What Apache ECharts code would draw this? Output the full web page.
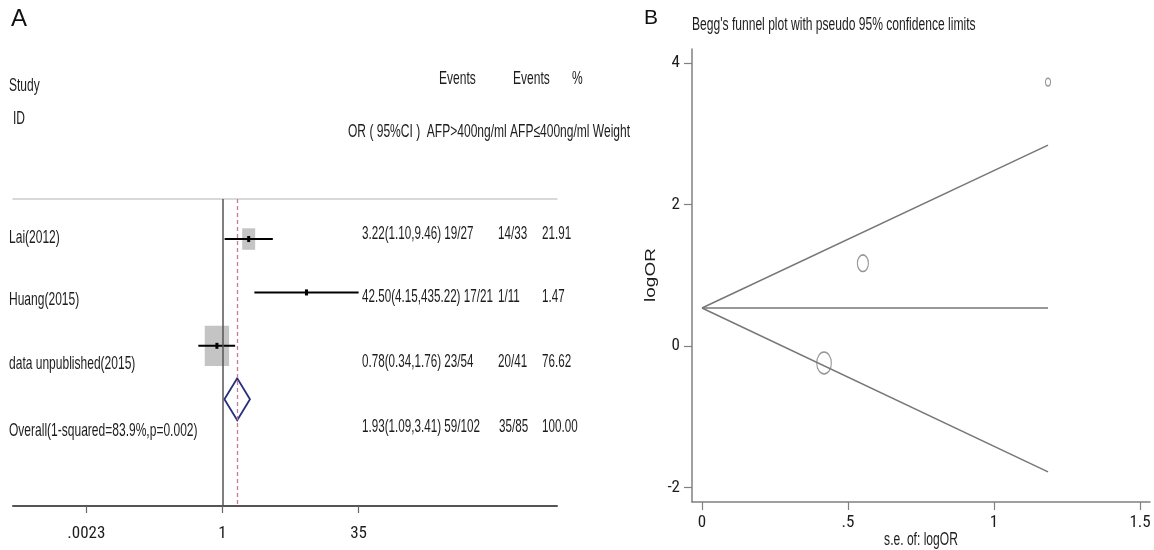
<!DOCTYPE html>
<html><head><meta charset="utf-8">
<script src="https://cdn.jsdelivr.net/npm/echarts@6/dist/echarts.min.js"></script>
<style>html,body{margin:0;padding:0;background:#fff;overflow:hidden}#c{width:1154px;height:550px}</style>
</head><body><div id="c"></div>
<script>
// ---------- Panel A: forest plot data ----------
const studies = ['Lai(2012)', 'Huang(2015)', 'data unpublished(2015)'];
const orEst = [3.22, 42.50, 0.78];
const orLow = [1.10, 4.15, 0.34];
const orHigh = [9.46, 435.22, 1.76];
const eventsHigh = ['19/27', '17/21', '23/54'];
const eventsLow = ['14/33', '1/11', '20/41'];
const weights = [21.91, 1.47, 76.62];
const overallLabel = 'Overall(1-squared=83.9%,p=0.002)';
const overallOR = [1.93, 1.09, 3.41];           // estimate, low, high
const overallEvents = ['59/102', '35/85'];
const overallWeight = [100.00];
const forestTickValues = [0.0023, 1, 435];
const forestTickLabels = ['.0023', '1', '35'];
const studyHeader = ['Study', 'ID'];
const columnHeaderTop = ['Events', 'Events', '%'];
const columnHeaderBottom = ['OR ( 95%CI )  AFP>400ng/ml AFP\u2264400ng/ml Weight'];

// ---------- Panel B: Begg's funnel plot data ----------
const funnelTitle = ["Begg's funnel plot with pseudo 95% confidence limits"];
const funnelSE = [0.551, 1.185, 0.418];
const funnelLogOR = [1.17, 3.73, -0.24];
const limitSE = [0, 1.185];
const upperLimit = [0.537, 2.84];
const centerLine = [0.537, 0.537];
const lowerLimit = [0.537, -1.78];
const funnelXTicks = [0, 0.5, 1, 1.5];
const funnelXLabels = ['0', '.5', '1', '1.5'];
const funnelYTicks = [-2, 0, 2, 4];
const funnelYLabels = ['-2', '0', '2', '4'];
const funnelAxisNames = ['s.e. of: logOR', 'logOR'];

// ---------- layout / styles ----------
const BASE = "'Liberation Sans', Arial, sans-serif";
const NARROW = "'Liberation Sans Narrow', 'Roboto Condensed', 'DejaVu Sans Condensed', 'Open Sans Condensed', 'Liberation Sans', Arial, sans-serif";
const SQ = 0.65;               // horizontal squeeze of the original figure's text
const SQ_NUM = 0.63;
const FS = 18.5;
const TXT = '#1c1c1c';

function labelFor(values, labels) {
  return function (v) {
    let best = 0, bd = Infinity;
    values.forEach((t, i) => { const d = Math.abs(t - v); if (d < bd) { bd = d; best = i; } });
    return labels[best];
  };
}
function txt(str, x, y, o) {
  o = o || {};
  return {
    type: 'text', x: x, y: y, silent: true,
    rotation: o.rotation || 0,
    scaleX: o.scaleX == null ? SQ : o.scaleX,
    scaleY: o.scaleY == null ? 1 : o.scaleY,
    style: {
      text: str, fill: o.color || TXT,
      fontSize: o.size || FS, fontFamily: o.family || BASE,
      textAlign: o.align || 'left', align: o.align || 'left',
      textVerticalAlign: 'middle', verticalAlign: 'middle'
    }
  };
}

const lnTicks = forestTickValues.map(Math.log);
const rows = studies.map((s, i) => i + 1);
const overallRow = studies.length + 1;
const num = { scaleX: SQ_NUM };

const graphics = [];
graphics.push(txt('A', 11, 19, { size: 24, scaleX: 1, color: '#111' }));
graphics.push(txt('B', 644, 18, { size: 21, scaleX: 1, color: '#111' }));
graphics.push(txt(studyHeader[0], 9, 86));
graphics.push(txt(studyHeader[1], 13, 119));
const topHeaderX = [439, 513, 572];
columnHeaderTop.forEach((h, i) => graphics.push(txt(h, topHeaderX[i], 79)));
graphics.push(txt(columnHeaderBottom[0], 348, 131.5));
const labelY = [238, 300, 364];
const statY = [234, 297, 362];
studies.forEach((s, i) => {
  graphics.push(txt(s, 9, labelY[i]));
  graphics.push(txt(orEst[i].toFixed(2) + '(' + orLow[i].toFixed(2) + ',' + orHigh[i].toFixed(2) + ') ' + eventsHigh[i], 362, statY[i], num));
  graphics.push(txt(eventsLow[i], 498, statY[i], num));
  graphics.push(txt(weights[i].toFixed(2), 542, statY[i], num));
});
graphics.push(txt(overallLabel, 9, 431));
graphics.push(txt(overallOR[0].toFixed(2) + '(' + overallOR[1].toFixed(2) + ',' + overallOR[2].toFixed(2) + ') ' + overallEvents[0], 362, 427, num));
graphics.push(txt(overallEvents[1], 499, 427, num));
graphics.push(txt(overallWeight[0].toFixed(2), 542, 427, num));
graphics.push(txt(funnelTitle[0], 692, 25, { size: 17.5, scaleX: 0.69 }));
graphics.push(txt(funnelAxisNames[0], 921, 540, { align: 'center', size: 17.5, scaleX: 0.69 }));
graphics.push(txt(funnelAxisNames[1], 651, 275, { align: 'center', rotation: Math.PI / 2, scaleX: 1, scaleY: 0.74, size: 19 }));

const chart = echarts.init(document.getElementById('c'), null, { renderer: 'canvas' });
chart.setOption({
  animation: false,
  backgroundColor: '#fff',
  grid: [
    { left: 13, top: 199, width: 544, height: 307 },
    { left: 692, top: 49, width: 458, height: 453 }
  ],
  xAxis: [
    {
      gridIndex: 0, type: 'value', min: -9.35, max: 14.93, position: 'bottom',
      axisLine: { onZero: false, lineStyle: { color: '#555', width: 2 } },
      splitLine: { show: false },
      axisTick: { customValues: lnTicks, length: 7, lineStyle: { color: '#666', width: 1.2 } },
      axisLabel: { customValues: lnTicks, formatter: labelFor(lnTicks, forestTickLabels), margin: 19, fontSize: 17, fontFamily: NARROW, color: TXT }
    },
    {
      gridIndex: 0, type: 'value', min: -9.35, max: 14.93, position: 'top',
      axisLine: { onZero: false, lineStyle: { color: '#cdcdcd', width: 1.5 } },
      splitLine: { show: false }, axisTick: { show: false }, axisLabel: { show: false }
    },
    {
      gridIndex: 1, type: 'value', min: -0.0342, max: 1.5342,
      axisLine: { onZero: false, lineStyle: { color: '#808080', width: 1.5 } },
      splitLine: { show: false },
      axisTick: { customValues: funnelXTicks, length: 8, lineStyle: { color: '#808080', width: 1.2 } },
      axisLabel: { customValues: funnelXTicks, formatter: labelFor(funnelXTicks, funnelXLabels), margin: 12, fontSize: 17, fontFamily: NARROW, color: TXT }
    }
  ],
  yAxis: [
    { gridIndex: 0, type: 'value', min: 0.25, max: 6, inverse: true, show: false, splitLine: { show: false } },
    {
      gridIndex: 1, type: 'value', min: -2.205, max: 4.198,
      axisLine: { show: true, onZero: false, lineStyle: { color: '#808080', width: 1.5 } },
      splitLine: { show: false },
      axisTick: { show: true, customValues: funnelYTicks, length: 8, lineStyle: { color: '#808080', width: 1.2 } },
      axisLabel: { customValues: funnelYTicks, formatter: labelFor(funnelYTicks, funnelYLabels), margin: 12, fontSize: 17, fontFamily: NARROW, color: TXT }
    }
  ],
  graphic: { elements: graphics },
  series: [
    {
      name: 'weight boxes', type: 'scatter', xAxisIndex: 0, yAxisIndex: 0, z: 2,
      symbol: 'rect',
      data: studies.map((s, i) => [Math.log(orEst[i]), rows[i], weights[i]]),
      symbolSize: function (v) { const w = 2.78 * Math.sqrt(v[2]); return [w, w * 1.65]; },
      itemStyle: { color: '#b5b5b5' },
      markLine: {
        silent: true, symbol: ['none', 'none'], label: { show: false },
        data: [
          { xAxis: 0, lineStyle: { color: '#555', width: 1.5, type: 'solid' } },
          { xAxis: Math.log(overallOR[0]), lineStyle: { color: '#cc7b8e', width: 1.3, type: [4, 3] } }
        ]
      }
    },
    {
      name: 'CI', type: 'custom', xAxisIndex: 0, yAxisIndex: 0, z: 3,
      data: studies.map((s, i) => [Math.log(orLow[i]), Math.log(orHigh[i]), Math.log(orEst[i]), rows[i]]),
      encode: { x: [0, 1, 2], y: 3 },
      renderItem: function (params, api) {
        const a = api.coord([api.value(0), api.value(3)]);
        const b = api.coord([api.value(1), api.value(3)]);
        const e = api.coord([api.value(2), api.value(3)]);
        return {
          type: 'group', children: [
            { type: 'line', shape: { x1: a[0], y1: a[1], x2: b[0], y2: b[1] }, style: { stroke: '#000', lineWidth: 2 } },
            { type: 'rect', shape: { x: e[0] - 1.5, y: e[1] - 3, width: 3, height: 6 }, style: { fill: '#000' } }
          ]
        };
      }
    },
    {
      name: 'overall', type: 'custom', xAxisIndex: 0, yAxisIndex: 0, z: 3,
      data: [[Math.log(overallOR[1]), Math.log(overallOR[2]), Math.log(overallOR[0]), overallRow]],
      encode: { x: [0, 1, 2], y: 3 },
      renderItem: function (params, api) {
        const a = api.coord([api.value(0), api.value(3)]);
        const b = api.coord([api.value(1), api.value(3)]);
        const e = api.coord([api.value(2), api.value(3)]);
        return {
          type: 'polygon',
          shape: { points: [[a[0], a[1]], [e[0], e[1] - 21], [b[0], b[1]], [e[0], e[1] + 21]] },
          style: { fill: 'none', stroke: '#26317c', lineWidth: 1.8 }
        };
      }
    },
    {
      name: 'upper limit', type: 'line', xAxisIndex: 2, yAxisIndex: 1, showSymbol: false, symbol: 'none',
      data: limitSE.map((s, i) => [s, upperLimit[i]]), lineStyle: { color: '#777', width: 1.5 }
    },
    {
      name: 'pooled', type: 'line', xAxisIndex: 2, yAxisIndex: 1, showSymbol: false, symbol: 'none',
      data: limitSE.map((s, i) => [s, centerLine[i]]), lineStyle: { color: '#777', width: 1.5 }
    },
    {
      name: 'lower limit', type: 'line', xAxisIndex: 2, yAxisIndex: 1, showSymbol: false, symbol: 'none',
      data: limitSE.map((s, i) => [s, lowerLimit[i]]), lineStyle: { color: '#777', width: 1.5 }
    },
    {
      name: 'studies', type: 'scatter', xAxisIndex: 2, yAxisIndex: 1, z: 4,
      symbol: 'path://M0,50A50,50,0,1,1,100,50A50,50,0,1,1,0,50Z',
      data: funnelSE.map((s, i) => [s, funnelLogOR[i]]),
      symbolSize: function (v) { return [6.1 / v[0], 9.2 / v[0]]; },
      itemStyle: { color: 'rgba(0,0,0,0)', borderColor: '#7a7a7a', borderWidth: 1.3 }
    }
  ]
});
</script>
</body></html>
